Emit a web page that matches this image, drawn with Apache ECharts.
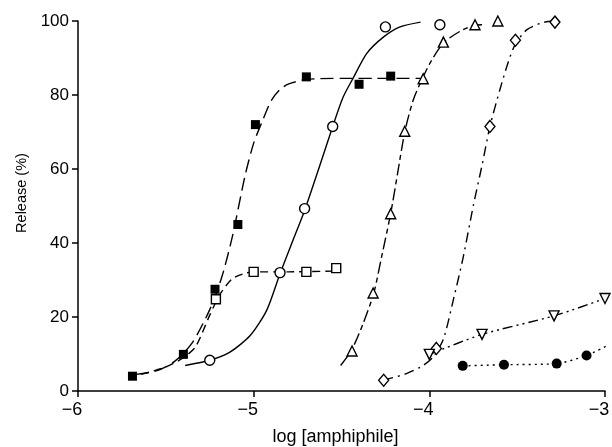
<!DOCTYPE html>
<html>
<head>
<meta charset="utf-8">
<script src="https://cdn.jsdelivr.net/npm/echarts@6/dist/echarts.min.js"></script>
<style>
  html, body { margin: 0; padding: 0; background: #fff; }
  #chart { width: 612px; height: 447px; }
</style>
</head>
<body>
<div id="chart"></div>
<script>
// measured points [log conc, release %]
var filledSquares = [[-5.69, 4], [-5.40, 9.9], [-5.22, 27.5], [-5.09, 45], [-4.99, 72], [-4.70, 84.9], [-4.40, 82.9], [-4.22, 85.1]];
var openSquares = [[-5.215, 24.8], [-5.0, 32.2], [-4.70, 32.2], [-4.53, 33.2]];
var openCircles = [[-5.25, 8.3], [-4.85, 32], [-4.71, 49.3], [-4.55, 71.5], [-4.25, 98.4], [-3.94, 99]];
var openTriangles = [[-4.44, 10.8], [-4.32, 26.5], [-4.22, 47.9], [-4.14, 70.2], [-4.035, 84.4], [-3.92, 94.3], [-3.74, 99], [-3.61, 100]];
var openDiamonds = [[-4.26, 2.9], [-3.96, 11.5], [-3.655, 71.5], [-3.51, 94.8], [-3.285, 99.7]];
var invTriangles = [[-4.0, 9.9], [-3.70, 15.3], [-3.29, 20.3], [-3.0, 25]];
var filledCircles = [[-3.81, 6.8], [-3.575, 7.1], [-3.275, 7.4], [-3.105, 9.6], [-2.99, 12.2]];

// fitted curves
var curveFilledSquares = [[-5.67, 4.5], [-5.55, 5.5], [-5.45, 8], [-5.35, 13], [-5.25, 22], [-5.18, 31], [-5.12, 42], [-5.05, 58], [-5.0, 67], [-4.95, 73], [-4.9, 78.5], [-4.85, 81.5], [-4.8, 83], [-4.7, 84.2], [-4.5, 84.5], [-4.3, 84.5], [-4.05, 84.5]];
var curveOpenSquares = [[-5.64, 4.5], [-5.5, 6.5], [-5.4, 9], [-5.33, 12], [-5.25, 20.5], [-5.19, 26.3], [-5.12, 30.4], [-5.05, 31.8], [-5.0, 32.2], [-4.8, 32.2], [-4.55, 32.4]];
var curveOpenCircles = [[-5.39, 6.9], [-5.25, 8.3], [-5.135, 10.5], [-5.02, 15], [-4.926, 21.8], [-4.85, 31.7], [-4.784, 39.8], [-4.71, 48.8], [-4.63, 60], [-4.55, 71.5], [-4.49, 79.5], [-4.43, 84.9], [-4.357, 91.2], [-4.26, 95.7], [-4.167, 98.4], [-4.05, 99.7]];
var curveOpenTriangles = [[-4.505, 6.9], [-4.443, 11], [-4.377, 18.2], [-4.316, 26.5], [-4.272, 36.2], [-4.22, 48], [-4.18, 59], [-4.14, 70], [-4.092, 78.6], [-4.04, 84.4], [-3.987, 89.4], [-3.917, 94.2], [-3.826, 97.2], [-3.75, 98.8], [-3.70, 99]];
var curveOpenDiamonds = [[-4.262, 2.9], [-4.13, 4.7], [-4.035, 6.9], [-3.978, 9.2], [-3.92, 14], [-3.864, 24.5], [-3.807, 36.2], [-3.75, 50], [-3.70, 61], [-3.655, 71.5], [-3.598, 81.5], [-3.55, 89], [-3.513, 93.5], [-3.446, 97.6], [-3.36, 99.5], [-3.30, 100]];

var xTicks = [-6, -5, -4, -3];
var yTicks = [0, 20, 40, 60, 80, 100];

var chart = echarts.init(document.getElementById('chart'));

var FONT = 'Liberation Sans';

function curve(data, dash) {
    return {
        type: 'line',
        data: data,
        smooth: 0.25,
        showSymbol: false,
        symbol: 'none',
        lineStyle: { color: '#000', width: 1.4, type: dash },
        z: 2,
        silent: true
    };
}

function marks(data, symbol, size, filled, rotate) {
    return {
        type: 'scatter',
        data: data,
        symbol: symbol,
        symbolSize: size,
        symbolRotate: rotate || 0,
        itemStyle: {
            color: filled ? '#000' : '#fff',
            borderColor: '#000',
            borderWidth: filled ? 0 : 1.4,
            opacity: 1
        },
        z: 5,
        silent: true
    };
}

function minus(v) {
    return String(v).replace('-', '\u2212');
}

var option = {
    animation: false,
    backgroundColor: '#fff',
    grid: { left: 78, right: 7, top: 21, bottom: 56, containLabel: false, outerBoundsMode: 'none' },
    xAxis: {
        type: 'value',
        min: -6,
        max: -3,
        interval: 1,
        name: 'log [amphiphile]',
        nameLocation: 'middle',
        nameGap: 37,
        nameTextStyle: { fontFamily: FONT, fontSize: 18, color: '#000', padding: [0, 12, 0, 0] },
        axisLine: { show: true, onZero: false, lineStyle: { color: '#000', width: 1.5 } },
        axisTick: { show: true, length: 6, lineStyle: { color: '#000', width: 1.5 } },
        axisLabel: {
            fontFamily: FONT, fontSize: 18, color: '#000', margin: 10,
            padding: [0, 12, 0, 0],
            formatter: function (v) { return xTicks.indexOf(v) >= 0 ? minus(v) : ''; }
        },
        splitLine: { show: false }
    },
    yAxis: {
        type: 'value',
        min: 0,
        max: 100,
        interval: 20,
        name: 'Release (%)',
        nameLocation: 'middle',
        nameRotate: 90,
        nameGap: 49,
        nameTextStyle: { fontFamily: FONT, fontSize: 14.5, color: '#000', padding: [0, 0, 0, 26] },
        axisLine: { show: true, lineStyle: { color: '#000', width: 1.5 } },
        axisTick: { show: true, length: 6, lineStyle: { color: '#000', width: 1.5 } },
        axisLabel: {
            fontFamily: FONT, fontSize: 17, color: '#000', margin: 9,
            formatter: function (v) { return yTicks.indexOf(v) >= 0 ? String(v) : ''; }
        },
        splitLine: { show: false }
    },
    series: [
        curve(curveFilledSquares, [13, 6]),
        curve(curveOpenSquares, [8, 5]),
        curve(curveOpenCircles, 'solid'),
        curve(curveOpenTriangles, [12, 4, 5, 4]),
        curve(curveOpenDiamonds, [10, 5, 2, 5]),
        curve(invTriangles, [10, 4, 2, 4, 2, 4]),
        curve(filledCircles, [2, 4]),
        marks(filledSquares, 'rect', 9, true),
        marks(openSquares, 'rect', 9, false),
        marks(openCircles, 'circle', 10, false),
        marks(openTriangles, 'triangle', 10, false),
        marks(openDiamonds, 'diamond', [10, 12], false),
        marks(invTriangles, 'triangle', 10, false, 180),
        marks(filledCircles, 'circle', 10, true)
    ]
};

chart.setOption(option);
</script>
</body>
</html>
